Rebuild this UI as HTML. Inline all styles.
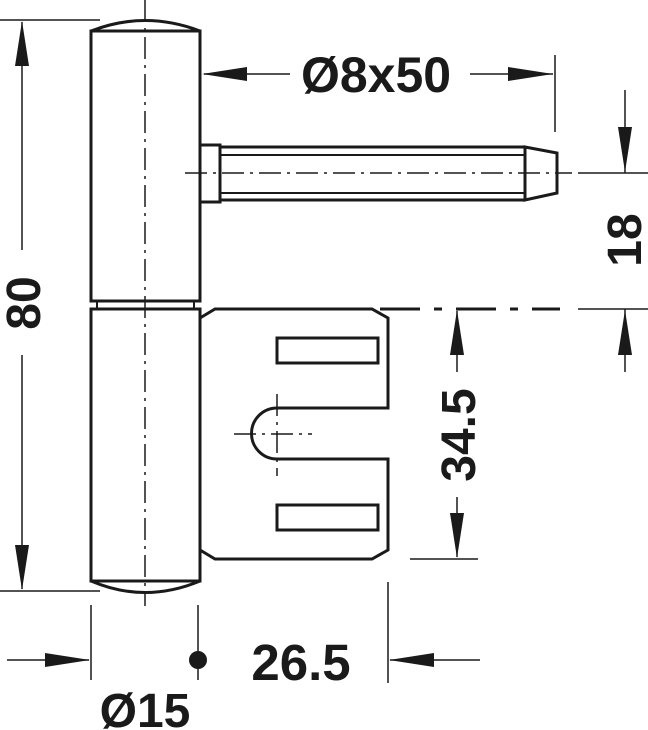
<!DOCTYPE html>
<html><head><meta charset="utf-8"><style>
html,body{margin:0;padding:0;background:#fff;width:648px;height:730px;overflow:hidden}
text{font-family:"Liberation Sans",Arial,sans-serif;font-weight:bold;fill:#1a1a1a}
</style></head><body>
<svg width="648" height="730" viewBox="0 0 648 730" xmlns="http://www.w3.org/2000/svg">
<g stroke="#1a1a1a" fill="none" stroke-width="3">
<path d="M91 31 Q145 10 200 31"/>
<path d="M91 31 V301 H200 V31 Z"/>
<path d="M97 301 V308 M194 301 V308" stroke-width="2"/>
<path d="M91 309 H200 V581 H91 Z"/>
<path d="M91 581 Q145 604 200 581"/>
<path d="M200 145 H220 V202 H200"/>
<path d="M220 147 H525 M220 200 H525"/>
<path d="M220 155 H525 M220 193 H525" stroke-width="2"/>
<path d="M525 147 L557 153 V193 L525 200 Z"/>
<path d="M200 318 L215 309 H372 L388 318 V408 H277 A25 25 0 0 0 277 459 H388 V550 L372 559 H215 L200 550"/>
<rect x="277" y="338" width="101" height="25"/>
<rect x="277" y="505" width="101" height="25"/>
</g>
<g stroke="#1a1a1a" fill="none" stroke-width="1.5">
<path d="M145 0 V606" stroke-dasharray="22,6,3,6"/>
<path d="M185 173 H572" stroke-dasharray="22,6,3,6"/>
<path d="M234 434 H312 M277 394 V476" stroke-dasharray="22,6,3,6"/>
<path d="M0 20 H100 M0 591 H100"/>
<path d="M22 22 V250 M22 355 V589"/>
<path d="M204 74 H290 M470 74 H553 M555 55 V132"/>
<path d="M578 173 H648 M578 309 H648 M625 90 V173 M625 309 V372"/>
<path d="M380 309 H560" stroke-dasharray="40,14,8,14" stroke-width="3"/>
<path d="M457 311 V372 M457 497 V557 M410 559 H478"/>
<path d="M91 605 V680 M198 605 V680 M388 582 V683"/>
<path d="M7 660 H89 M390 660 H480"/>
</g>
<g fill="#1a1a1a">
<path d="M22 21 L15 66 H29 Z"/>
<path d="M22 590 L15 545 H29 Z"/>
<path d="M202 74 L247 67 V81 Z"/>
<path d="M553 74 L508 67 V81 Z"/>
<path d="M625 172 L618 127 H632 Z"/>
<path d="M625 310 L618 355 H632 Z"/>
<path d="M457 310 L450 355 H464 Z"/>
<path d="M457 558 L450 513 H464 Z"/>
<path d="M90 660 L45 653 V667 Z"/>
<path d="M389 660 L434 653 V667 Z"/>
<circle cx="198" cy="660" r="9"/>
</g>
<text x="376" y="92" font-size="50" text-anchor="middle">Ø8x50</text>
<text transform="translate(40,303) rotate(-90)" font-size="48" text-anchor="middle">80</text>
<text transform="translate(641,240) rotate(-90)" font-size="48" text-anchor="middle">18</text>
<text transform="translate(475,435) rotate(-90)" font-size="48" text-anchor="middle">34.5</text>
<text x="301" y="680" font-size="51" text-anchor="middle">26.5</text>
<text x="145" y="727" font-size="48" text-anchor="middle">Ø15</text>
</svg>
</body></html>
